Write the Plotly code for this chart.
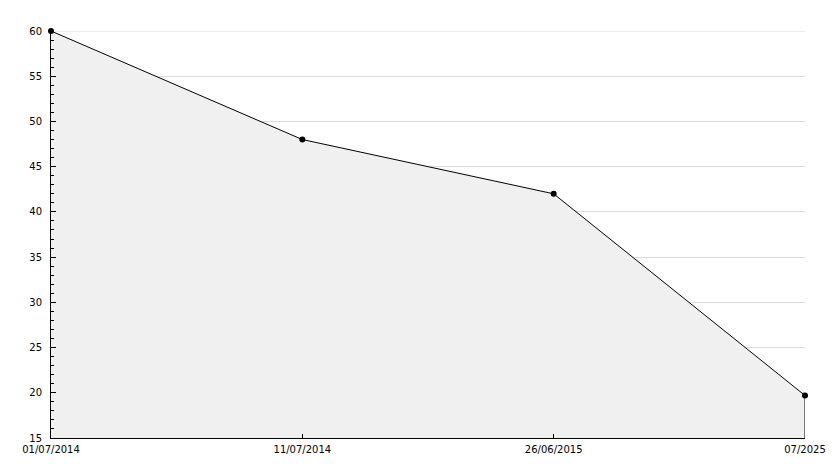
import plotly.graph_objects as go

dates = ["01/07/2014", "11/07/2014", "26/06/2015", "07/2025"]
values = [60, 48, 42, 19.7]
y_min, y_max, y_step = 15, 60, 5

fig = go.Figure()
fig.add_trace(go.Scatter(
    x=list(range(len(dates))), y=values, mode="lines+markers",
    line=dict(color="black", width=1),
    marker=dict(color="black", size=6, symbol="circle"),
    fill="tozeroy", fillcolor="#f0f0f0", hoverinfo="skip", cliponaxis=False))
fig.add_trace(go.Scatter(
    x=[len(dates) - 1, len(dates) - 1], y=[values[-1], y_min], mode="lines",
    line=dict(color="black", width=1), hoverinfo="skip", cliponaxis=False))

fig.update_layout(
    width=834, height=468, showlegend=False,
    paper_bgcolor="white", plot_bgcolor="white",
    margin=dict(l=43, r=37, t=23, b=38),
    font=dict(family="DejaVu Sans", size=10, color="black"),
    shapes=[dict(type="line", xref="paper", yref="y", x0=0, x1=1, y0=y_max, y1=y_max,
                 line=dict(color="#dcdcdc", width=1), layer="below")],
)
fig.update_xaxes(
    range=[0, len(dates) - 1], tickmode="array", automargin=False,
    tickvals=list(range(len(dates))), ticktext=dates,
    showgrid=False, zeroline=False, showline=True, linecolor="black", linewidth=1,
    ticks="inside", ticklen=4, tickcolor="black", ticklabelstandoff=2,
)
fig.update_yaxes(
    range=[y_min, y_max], tickmode="linear", tick0=y_min, dtick=y_step, automargin=False,
    showgrid=True, gridcolor="#dcdcdc", gridwidth=1, zeroline=False,
    showline=True, linecolor="black", linewidth=1,
    ticks="inside", ticklen=5, tickcolor="black", ticklabelstandoff=6,
    minor=dict(ticks="inside", ticklen=3, dtick=1, tickcolor="black", showgrid=False),
)
fig.write_html("out.html")
